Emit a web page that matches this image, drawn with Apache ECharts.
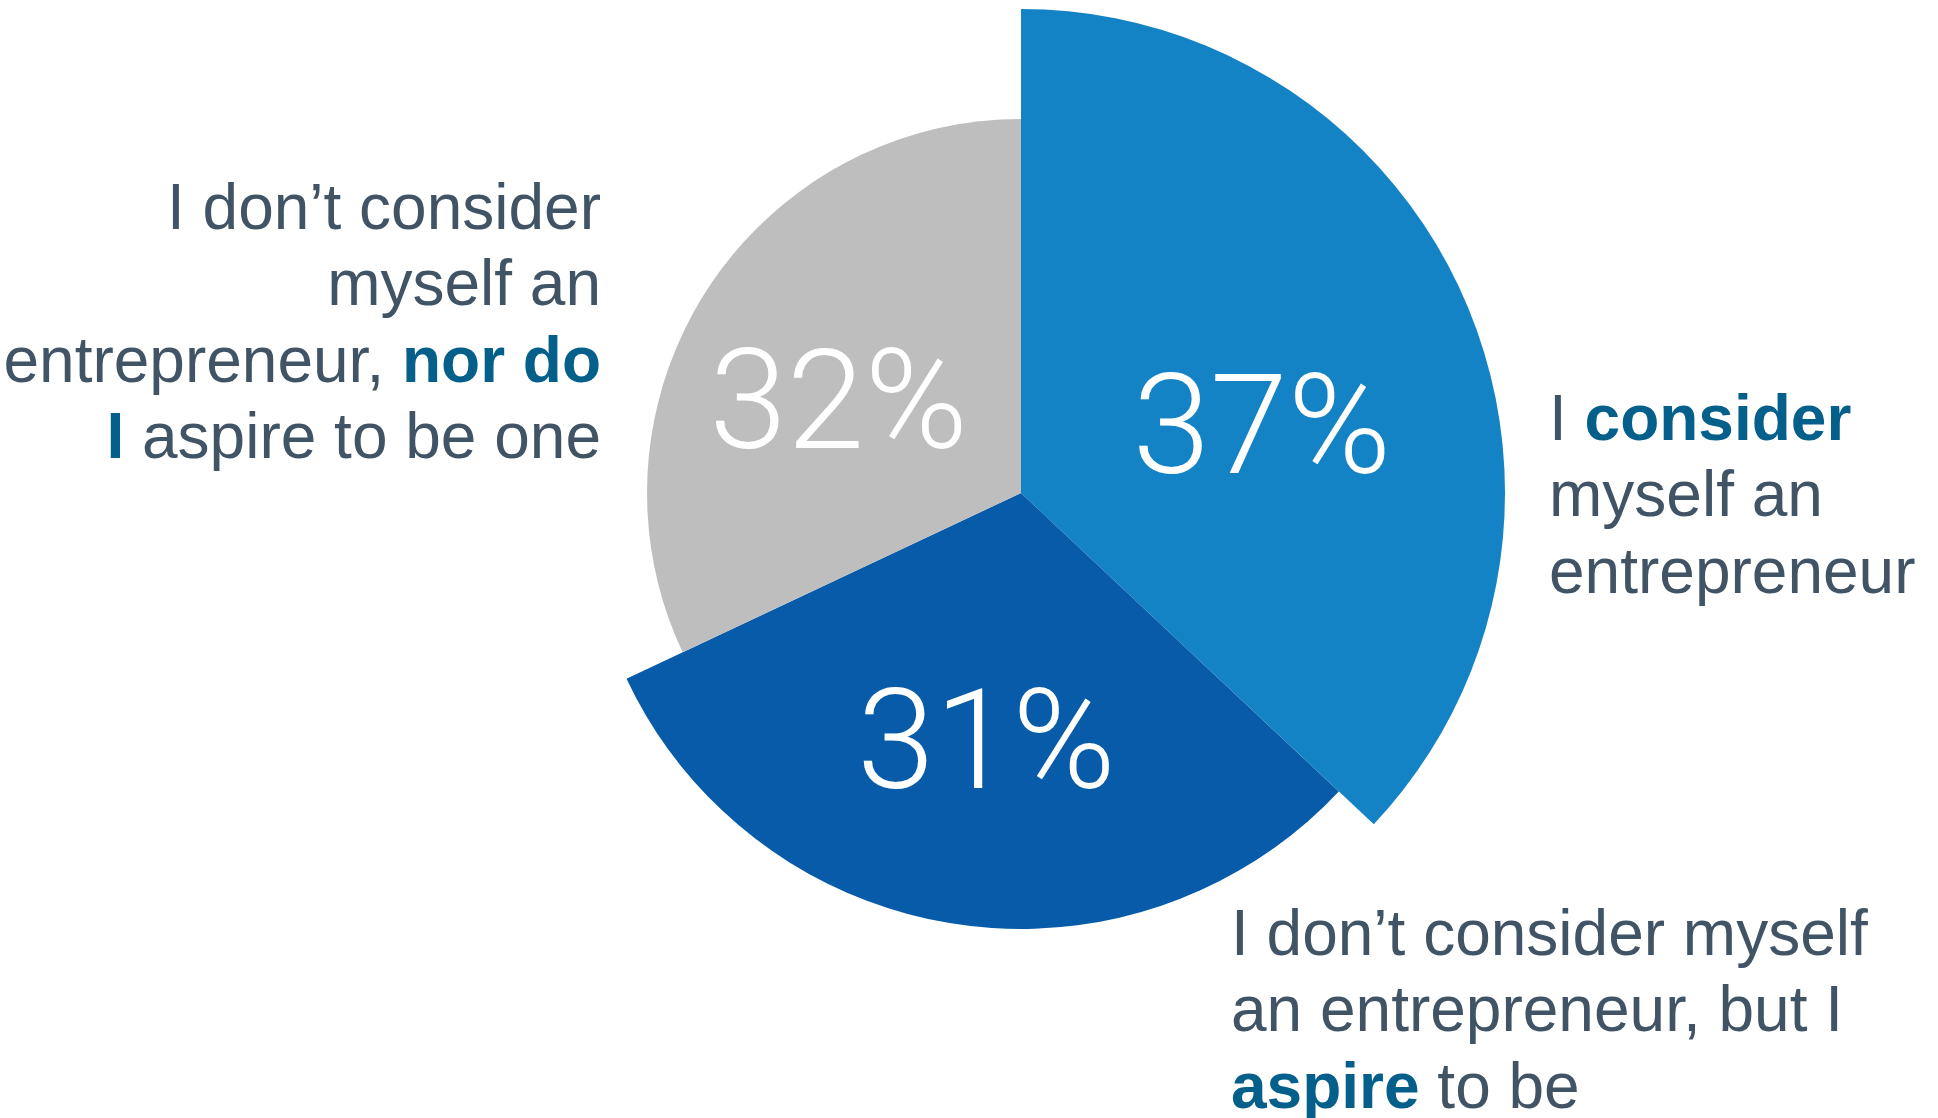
<!DOCTYPE html>
<html>
<head>
<meta charset="utf-8">
<title>Entrepreneurship self-identification</title>
<script src="https://cdn.jsdelivr.net/npm/echarts@6/dist/echarts.min.js"></script>
<style>
  html, body { margin: 0; padding: 0; background: #ffffff; }
  #chart { width: 1938px; height: 1118px; }
</style>
</head>
<body>
<div id="chart"></div>
<script>
// Survey answers, in clockwise order from 12 o'clock
const categories = [
  'I consider myself an entrepreneur',
  "I don't consider myself an entrepreneur, but I aspire to be",
  "I don't consider myself an entrepreneur, nor do I aspire to be one"
];
const shares = [37, 31, 32];
const sliceColors = ['#1383c6', '#075ba8', '#bebebe'];
// Each slice is drawn with its own outer radius
const sliceRadii = [484, 436, 374];
// Fine placement of the percentage labels inside each slice
const labelShift = [[16, 42], [0, 42], [-22, 22]];

const TEXT = '#405465';
const ACCENT = '#04608a';
const ANSWER_FONT = '"Liberation Sans", Arial, sans-serif';

const chart = echarts.init(document.getElementById('chart'), null, { renderer: 'canvas' });

// One pie series per slice: all series share the same angles,
// only the slice belonging to the series is painted.
const series = shares.map((_, k) => ({
  type: 'pie',
  center: [1021, 493],
  radius: [0, sliceRadii[k]],
  startAngle: 90,
  clockwise: true,
  silent: true,
  animation: false,
  z: 2 + k,
  labelLine: { show: false },
  emphasis: { disabled: true },
  labelLayout: function () {
    return { dx: labelShift[k][0], dy: labelShift[k][1] };
  },
  data: shares.map((v, i) => ({
    name: categories[i],
    value: v,
    itemStyle: {
      color: i === k ? sliceColors[i] : 'rgba(0,0,0,0)',
      borderWidth: 0
    },
    label: i === k ? {
      show: true,
      position: 'inside',
      formatter: '{c}%',
      color: '#ffffff',
      fontFamily: 'Roboto, "Noto Sans", sans-serif',
      fontWeight: 300,
      fontSize: 140
    } : { show: false }
  }))
}));

const rich = {
  n: { fontFamily: ANSWER_FONT, fontSize: 64, lineHeight: 76.5, fill: TEXT },
  b: { fontFamily: ANSWER_FONT, fontSize: 64, lineHeight: 76.5, fill: ACCENT, fontWeight: 'bold' }
};

function answerText(x, y, text, align) {
  return {
    type: 'text',
    x: x,
    y: y,
    silent: true,
    style: {
      text: text,
      rich: rich,
      fill: TEXT,
      align: align,
      verticalAlign: 'top'
    }
  };
}

chart.setOption({
  backgroundColor: '#ffffff',
  series: series,
  graphic: [
    answerText(601, 173,
      "{n|I don\u2019t consider}\n{n|myself an}\n{n|entrepreneur, }{b|nor do}\n{b|I}{n| aspire to be one}",
      'right'),
    answerText(1549, 384,
      '{n|I }{b|consider}\n{n|myself an}\n{n|entrepreneur}',
      'left'),
    answerText(1231, 899,
      "{n|I don\u2019t consider myself}\n{n|an entrepreneur, but I}\n{b|aspire}{n| to be}",
      'left')
  ]
});
</script>
</body>
</html>
